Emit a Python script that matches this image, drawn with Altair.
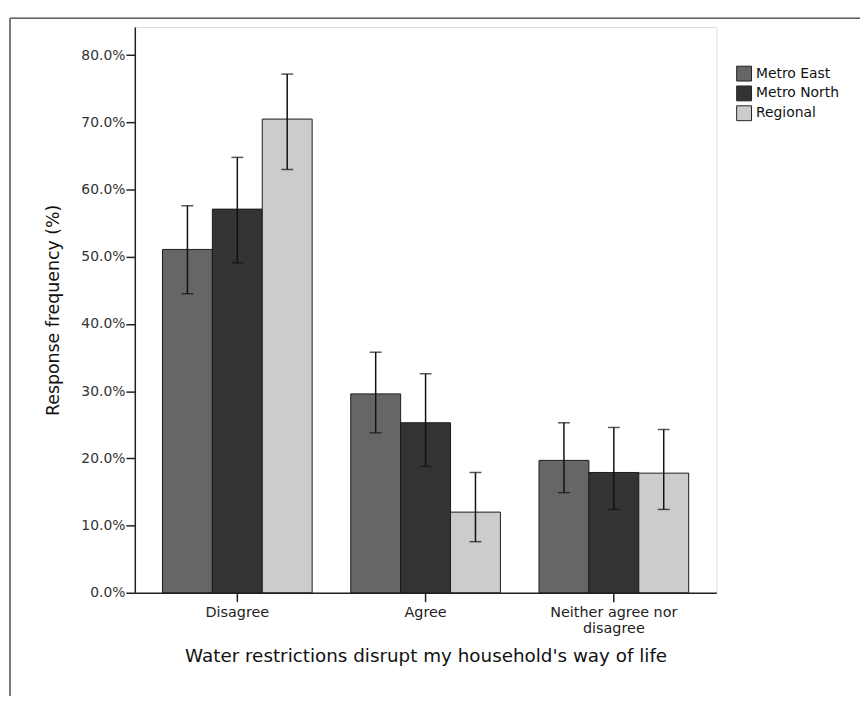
import altair as alt
import pandas as pd

categories = ["Disagree", "Agree", "Neither agree nor disagree"]
groups = ["Metro East", "Metro North", "Regional"]

metro_east = [51.1, 29.6, 19.7]
metro_north = [57.1, 25.3, 17.9]
regional = [70.5, 12.0, 17.8]

metro_east_lo = [44.5, 23.8, 14.9]
metro_north_lo = [49.1, 18.8, 12.4]
regional_lo = [63.0, 7.6, 12.4]

metro_east_hi = [57.6, 35.8, 25.3]
metro_north_hi = [64.8, 32.6, 24.6]
regional_hi = [77.2, 17.9, 24.3]

y_ticks = [0, 10, 20, 30, 40, 50, 60, 70, 80]
colors = ["#666666", "#333333", "#cccccc"]

rows = []
for g, vals, los, his in [
    ("Metro East", metro_east, metro_east_lo, metro_east_hi),
    ("Metro North", metro_north, metro_north_lo, metro_north_hi),
    ("Regional", regional, regional_lo, regional_hi),
]:
    for c, v, lo, hi in zip(categories, vals, los, his):
        rows.append({"cat": c, "group": g, "value": v, "lo": lo, "hi": hi})
df = pd.DataFrame(rows)

W, H = 587, 571

x_enc = alt.X(
    "cat:N",
    sort=categories,
    scale=alt.Scale(paddingInner=0.205, paddingOuter=0.147),
    axis=alt.Axis(
        title="Water restrictions disrupt my household's way of life",
        labelAngle=0,
        labelFont="DejaVu Sans",
        labelFontSize=14.5,
        labelColor="#222222",
        labelPadding=4,
        labelExpr="datum.value == 'Neither agree nor disagree' ? ['Neither agree nor', 'disagree'] : datum.value",
        labelLineHeight=16,
        tickSize=9,
        tickColor="#222222",
        tickWidth=1.5,
        domainColor="#222222",
        domainWidth=1.5,
        titleFont="DejaVu Sans",
        titleFontSize=18.5,
        titleFontWeight="normal",
        titleColor="#111111",
        titlePadding=12,
    ),
)
xo = alt.XOffset("group:N", sort=groups, scale=alt.Scale(paddingInner=0, paddingOuter=0))
y_scale = alt.Scale(domain=[0, 84.2], nice=False, zero=True)

base = alt.Chart(df)

bars = base.mark_bar(stroke="#1a1a1a", strokeWidth=1).encode(
    x=x_enc,
    xOffset=xo,
    y=alt.Y(
        "value:Q",
        scale=y_scale,
        axis=alt.Axis(
            title="Response frequency (%)",
            values=y_ticks,
            labelExpr="format(datum.value, '.1f') + '%'",
            labelFont="DejaVu Sans",
            labelFontSize=14,
            labelColor="#333333",
            labelPadding=1,
            tickSize=9,
            tickColor="#222222",
            tickWidth=1.5,
            domainColor="#222222",
            domainWidth=1.5,
            grid=False,
            titleFont="DejaVu Sans",
            titleFontSize=17.5,
            titleFontWeight="normal",
            titleColor="#111111",
            titleX=-73,
        ),
    ),
    fill=alt.Fill(
        "group:N",
        sort=groups,
        scale=alt.Scale(domain=groups, range=colors),
        legend=alt.Legend(
            title=None,
            orient="none",
            legendX=607,
            legendY=39,
            symbolType="square",
            symbolSize=225,
            symbolStrokeColor="#222222",
            symbolStrokeWidth=1,
            labelFont="DejaVu Sans",
            labelFontSize=14,
            labelColor="#111111",
            labelOffset=4,
            rowPadding=0,
        ),
    ),
)

err = base.mark_rule(color="#111111", strokeWidth=1.5).encode(
    x=alt.X("cat:N", sort=categories),
    xOffset=xo,
    y=alt.Y("lo:Q", scale=y_scale),
    y2="hi:Q",
)
cap_lo = base.mark_tick(color="#111111", thickness=1.5, size=12, orient="horizontal").encode(
    x=alt.X("cat:N", sort=categories),
    xOffset=xo,
    y=alt.Y("lo:Q", scale=y_scale),
)
cap_hi = base.mark_tick(color="#111111", thickness=1.5, size=12, orient="horizontal").encode(
    x=alt.X("cat:N", sort=categories),
    xOffset=xo,
    y=alt.Y("hi:Q", scale=y_scale),
)

one = alt.Chart(pd.DataFrame({"a": [0]}))
frame_top = one.mark_rule(color="#000000", strokeWidth=1).encode(
    x=alt.value(-126), x2=alt.value(740), y=alt.value(-9)
)
frame_left = one.mark_rule(color="#7a7a7a", strokeWidth=2).encode(
    x=alt.value(-126), y=alt.value(-9), y2=alt.value(700)
)

chart = (
    alt.layer(bars, err, cap_lo, cap_hi, frame_top, frame_left)
    .properties(
        width=W,
        height=H,
        autosize=alt.AutoSizeParams(type="none"),
        padding={"left": 128, "top": 16, "right": 145, "bottom": 101},
    )
    .configure_view(stroke="#8a8a8a", strokeWidth=2.5)
    .configure(background="white")
)

chart.save("out.html", embed_options={"renderer": "svg", "actions": False})
